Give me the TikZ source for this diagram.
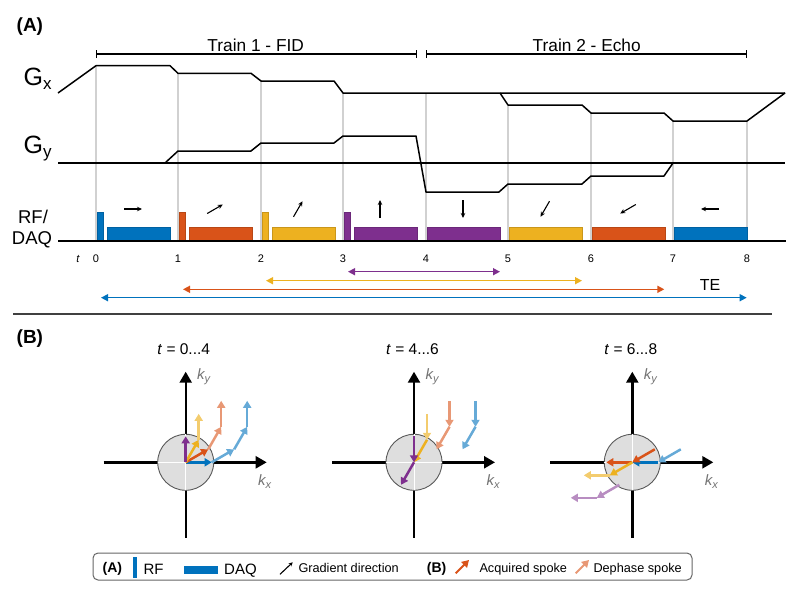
\documentclass[tikz,border=0pt]{standalone}
\usepackage{fontspec}
\setmainfont{Liberation Sans}
\usetikzlibrary{arrows.meta, positioning}
\definecolor{cB}{RGB}{0,114,189}
\definecolor{cR}{RGB}{217,83,25}
\definecolor{cY}{RGB}{237,177,32}
\definecolor{cP}{RGB}{126,47,142}
\colorlet{lB}{cB!60!white}
\colorlet{lR}{cR!60!white}
\colorlet{lY}{cY!65!white}
\colorlet{lP}{cP!55!white}
\newcommand{\fsz}[1]{\fontsize{#1}{#1}\selectfont}

\begin{document}
\begin{tikzpicture}[
  x=1pt, y=-1pt,
  every node/.style={inner sep=0pt},
  wave/.style={line width=1.5pt, line join=round},
  vline/.style={line width=1.2pt, black!18},
  blk/.style={fill=#1, draw=#1!85!black, line width=0.6pt},
  grad/.style={line width=1.1pt, -{Stealth[length=5pt,width=4.5pt]}},
  train/.style={line width=1.1pt, {Bar[width=8pt]}-{Bar[width=8pt]}},
  te/.style={line width=1.5pt, draw=#1, {Triangle[length=7pt,width=7pt]}-{Triangle[length=7pt,width=7pt]}},
  kax/.style={line width=2.4pt, -{Triangle[length=11pt,width=12pt]}},
  acq/.style={line width=2.5pt, draw=#1, -{Triangle[length=7pt,width=8pt]}},
  dep/.style={acq=#1},
  kdisc/.style={fill=black!13, draw=black!65, line width=0.9pt},
  klab/.style={text=black!55, font=\fsz{15}\itshape},
  lbl/.style={font=\fsz{11}, anchor=base}
]
\useasboundingbox (0,0) rectangle (800,595);

% panel labels
\node[anchor=base west, font=\fsz{19}\bfseries] (pa) at (16.5,31.5) {(A)};
\node[anchor=base west, font=\fsz{19}\bfseries] (pb) at (16.5,343) {(B)};

% trains
\draw[train] (96,54) -- (416.7,54);
\draw[train] (426,54) -- (746.7,54);
\node[anchor=base, font=\fsz{17.3}] (tr1) at (255.7,51.7) {Train 1 - FID};
\node[anchor=base, font=\fsz{17.3}] (tr2) at (586.7,51.7) {Train 2 - Echo};

% grid lines
\foreach \x/\y in {96/65.7, 178/73.3, 261/81, 343/93, 426/93, 508/105, 591/113, 673/121, 747/121}
  \draw[vline] (\x,\y) -- (\x,241);

% Gx
\node[anchor=base west, font=\fsz{25}] (gx) at (23.5,85) {G\fsz{17}\raisebox{-4.5pt}{x}};
\draw[wave] (58,93) -- (96,65.7) -- (170,65.7) -- (178,73.3) -- (251,73.3) -- (261,81)
  -- (334,81) -- (343,93) -- (785,93);
\draw[wave] (500,93) -- (508,105) -- (582,105) -- (591,113) -- (664,113) -- (673,121)
  -- (747,121) -- (785,93);

% Gy
\node[anchor=base west, font=\fsz{25}] (gy) at (23.5,153.3) {G\fsz{17}\raisebox{-4.5pt}{y}};
\draw[wave] (58,163) -- (785,163);
\draw[wave] (165,163) -- (178,151) -- (251,151) -- (261,143) -- (334,143) -- (343,136)
  -- (416,136) -- (426,192) -- (499,192) -- (508,184) -- (582,184) -- (591,176)
  -- (664,176) -- (673,163);

% RF / DAQ
\node[anchor=base, font=\fsz{18.5}] (rf) at (33,223.3) {RF/};
\node[anchor=base, font=\fsz{18.5}] (daq) at (32,244.5) {DAQ};
\foreach \x/\c in {96/cB, 178/cR, 261/cY, 343/cP} {
  \draw[blk=\c] (\x+1,212) rectangle (\x+7.5,241);
  \draw[blk=\c] (\x+11,227) rectangle (\x+74,241);
}
\foreach \x/\c in {426/cP, 508/cY, 591/cR, 673/cB}
  \draw[blk=\c] (\x+1,227) rectangle (\x+74,241);
\draw[wave] (58,241) -- (786,241);

% gradient directions
\foreach \x/\a in {96/0, 178/30, 261/60, 343/90, 426/270, 508/240, 591/210, 673/180}
  \draw[grad] ({\x+37},209) ++(180-\a:9) -- ++(-\a:18);

% time axis
\node[lbl, font=\fsz{11}\itshape] (tt) at (78,262.7) {t};
\foreach \x [count=\i from 0] in {96,178,261,343,426,508,591,673,747}
  \node[lbl] (t\i) at (\x,262.7) {\i};

% echo times
\draw[te=cP] (348,271.7) -- (500,271.7);
\draw[te=cY] (266,280.7) -- (582,280.7);
\draw[te=cR] (183,289.3) -- (664.3,289.3);
\draw[te=cB] (101,297.7) -- (746.7,297.7);
\node[anchor=base, font=\fsz{16}] (te) at (710,290) {TE};

\draw[line width=1.5pt, black!75] (13,314) -- (772,314);

% k-space, t = 0...4
\node[anchor=base, font=\fsz{15.5}] (k1t) at (183.7,354) {\textit{t} = 0...4};
\begin{scope}[shift={(185.7,462.3)}, y=1pt]
  \draw[kax] (-82,0) -- (81,0);
  \draw[kax] (0,-75.4) -- (0,90.6);
  \draw[kdisc] (0,0) circle (28);
  \draw[white, line width=0.8pt] (-28,0) -- (28,0) (0,-28) -- (0,28);
  \node[klab] (k1x) at (79,-19) {k\fsz{11}\raisebox{-3pt}{x}};
  \node[klab] (k1y) at (18,86) {k\fsz{11}\raisebox{-3pt}{y}};
  \foreach \c/\a/\b in {lB/{26,0}/{48.5,13}, lB/{48.5,13}/{61.5,35.5}, lB/{61.5,35.5}/{61.5,61.5},
      lR/{22.5,13}/{35.5,35.5}, lR/{35.5,35.5}/{35.5,61.5}, lY/{13,22.5}/{13,48.5}}
    \draw[dep=\c] (\a) -- (\b);
  \foreach \c/\b in {cB/{26,0}, cR/{22.5,13}, cY/{13,22.5}, cP/{0,26}}
    \draw[acq=\c] (0,0) -- (\b);
\end{scope}

% k-space, t = 4...6
\node[anchor=base, font=\fsz{15.5}] (k2t) at (412.5,354) {\textit{t} = 4...6};
\begin{scope}[shift={(414,462.3)}, y=1pt]
  \draw[kax] (-82,0) -- (81,0);
  \draw[kax] (0,-75.4) -- (0,90.6);
  \draw[kdisc] (0,0) circle (28);
  \draw[white, line width=0.8pt] (-28,0) -- (28,0) (0,-28) -- (0,28);
  \node[klab] (k2x) at (79,-19) {k\fsz{11}\raisebox{-3pt}{x}};
  \node[klab] (k2y) at (18,86) {k\fsz{11}\raisebox{-3pt}{y}};
  \foreach \c/\a/\b in {lB/{61.5,61.5}/{61.5,35.5}, lB/{61.5,35.5}/{48.5,13},
      lR/{35.5,61.5}/{35.5,35.5}, lR/{35.5,35.5}/{22.5,13}, lY/{13,48.5}/{13,22.5},
      cY/{13,22.5}/{0,0}, cP/{0,26}/{0,0}, cP/{0,0}/{-13,-22.5}}
    \draw[acq=\c] (\a) -- (\b);
\end{scope}

% k-space, t = 6...8
\node[anchor=base, font=\fsz{15.5}] (k3t) at (630.8,354) {\textit{t} = 6...8};
\begin{scope}[shift={(632.3,462.3)}, y=1pt]
  \draw[kax] (-82,0) -- (81,0);
  \draw[kax] (0,-75.4) -- (0,90.6);
  \draw[kdisc] (0,0) circle (28);
  \draw[white, line width=0.8pt] (-28,0) -- (28,0) (0,-28) -- (0,28);
  \node[klab] (k3x) at (79,-19) {k\fsz{11}\raisebox{-3pt}{x}};
  \node[klab] (k3y) at (18,86) {k\fsz{11}\raisebox{-3pt}{y}};
  \foreach \c/\a/\b in {lB/{48.5,13}/{26,0}, cB/{26,0}/{0,0}, cR/{22.5,13}/{0,0},
      cR/{0,0}/{-26,0}, cY/{0,0}/{-22.5,-13}, lY/{-22.5,-13}/{-48.5,-13},
      lP/{-13,-22.5}/{-35.5,-35.5}, lP/{-35.5,-35.5}/{-61.5,-35.5}}
    \draw[acq=\c] (\a) -- (\b);
\end{scope}

% legend
\draw[black!60, line width=1pt, rounded corners=5pt] (93,553) rectangle (692,580);
\node[anchor=base west, font=\fsz{14}\bfseries] (la) at (102.5,572.5) {(A)};
\fill[cB] (133.3,557.3) rectangle (137.3,578.3);
\node[anchor=base west, font=\fsz{15}] (lrf) at (143.3,574.5) {RF};
\fill[cB] (184.3,566) rectangle (218.3,574);
\node[anchor=base west, font=\fsz{15}] (ldaq) at (224,574.5) {DAQ};
\draw[grad, -{Stealth[length=4pt,width=4pt]}] (280,574.3) -- (292.7,562.3);
\node[anchor=base west, font=\fsz{12.7}] (lgr) at (298.3,572) {Gradient direction};
\node[anchor=base west, font=\fsz{14}\bfseries] (lb) at (426.7,572.5) {(B)};
\draw[acq=cR, line width=2pt] (455.7,573.3) -- (469,560);
\node[anchor=base west, font=\fsz{12.7}] (lacq) at (479.3,572) {Acquired spoke};
\draw[acq=lR, line width=2pt] (575.7,573.3) -- (589,560);
\node[anchor=base west, font=\fsz{12.7}] (ldep) at (593.3,572) {Dephase spoke};
\end{tikzpicture}
\end{document}
